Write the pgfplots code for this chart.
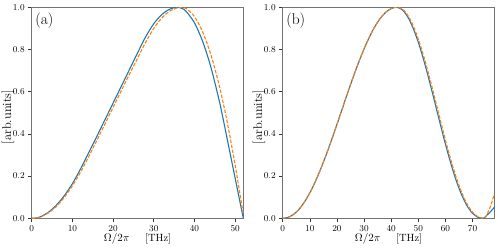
\documentclass[border=0pt]{standalone}
\usepackage{pgfplots}
\pgfplotsset{compat=1.18}
\definecolor{mblue}{RGB}{31,119,180}
\definecolor{morange}{RGB}{255,127,14}
\pgfplotsset{
 myax/.style={
  scale only axis, width=211.6pt, height=211pt,
  ymin=0, ymax=1, ytick={0,0.2,0.4,0.6,0.8,1},
  yticklabel style={/pgf/number format/.cd, fixed, fixed zerofill, precision=1},
  tick align=outside, xtick pos=bottom, ytick pos=left,
  major tick length=3.5pt,
  tick style={black!80, line width=0.6pt},
  axis line style={black!55, line width=0.8pt},
  tick label style={font=\fontsize{9}{10}\selectfont},
  x label style={font=\fontsize{10.5}{12}\selectfont, at={(axis description cs:0.5,-0.095)}, anchor=center},
  y label style={font=\fontsize{12.5}{14}\selectfont, at={(axis description cs:-0.112,0.48)}, anchor=center},
  xlabel={$\Omega/2\pi$\hspace{1.5em}[THz]},
  ylabel={[arb.units]},
 },
 bl/.style={mblue, line width=1.1pt, smooth, no markers},
 or/.style={morange, line width=1.1pt, dash pattern=on 3.5pt off 1.6pt, smooth, no markers},
}
\begin{document}
\begin{tikzpicture}
\useasboundingbox (-31.7pt,-29.7pt) rectangle (466.3pt,218.3pt);
\begin{axis}[myax, at={(0pt,0pt)}, anchor=south west, xmin=0, xmax=52, xtick={0,10,20,30,40,50}]
\addplot[bl] coordinates {(0,0) (1,0.0008) (2,0.006) (4,0.027) (6,0.061) (8,0.107) (10,0.164) (12,0.234) (14,0.310) (16,0.388) (18,0.467) (20,0.546) (22,0.625) (24,0.704) (26,0.783) (28,0.860) (30,0.922) (32,0.966) (34,0.992) (35.8,1.0) (37,0.994) (38,0.9797) (40,0.9262) (42,0.8391) (44,0.7186) (46,0.5646) (47,0.475) (48,0.38) (49,0.285) (50,0.19) (51,0.095) (52,0)};
\addplot[or] coordinates {(0,0) (1,0.0006) (2,0.005) (4,0.024) (6,0.055) (8,0.099) (10,0.154) (12,0.219) (14,0.292) (16,0.369) (18,0.447) (20,0.526) (22,0.604) (24,0.682) (26,0.758) (28,0.834) (30,0.900) (32,0.950) (34,0.9828) (36,0.9986) (36.8,1.0) (38,0.9938) (40,0.956) (42,0.8837) (44,0.7771) (46,0.636) (48,0.4606) (50,0.2508) (51,0.136) (52,0.02)};
\node[anchor=north west, inner sep=0pt, font=\fontsize{15.5}{18}\selectfont] at (rel axis cs:0.016,0.975) {(a)};
\end{axis}
\begin{axis}[myax, at={(251pt,0pt)}, anchor=south west, xmin=0, xmax=78, xtick={0,10,20,30,40,50,60,70}]
\addplot[bl] coordinates {(0,0) (2,0.0043) (4,0.0184) (6,0.0426) (8,0.0769) (10,0.1207) (12,0.1731) (14,0.2333) (16,0.2996) (18,0.3708) (20,0.4451) (22,0.5209) (24,0.5964) (26,0.6698) (28,0.7393) (30,0.8033) (32,0.8603) (34,0.9090) (36,0.9481) (38,0.9767) (40,0.9941) (42,1.0) (44,0.9890) (46,0.9564) (48,0.9037) (50,0.8335) (52,0.7491) (54,0.6541) (56,0.5531) (58,0.4506) (60,0.3511) (62,0.2588) (64,0.1773) (66,0.1098) (68,0.0581) (70,0.0233) (72,0.0048) (73,0.0012) (74,0) (75,0.011) (76,0.023) (77,0.037) (78,0.052)};
\addplot[or] coordinates {(0,0) (2,0.0043) (4,0.0184) (6,0.0426) (8,0.0769) (10,0.1207) (12,0.1731) (14,0.2333) (16,0.2996) (18,0.3708) (20,0.4451) (22,0.5209) (24,0.5964) (26,0.6698) (28,0.7393) (30,0.8033) (32,0.8603) (34,0.9090) (36,0.9481) (38,0.9767) (40,0.9941) (42.2,1.0) (44.4,0.9890) (46.4,0.9564) (48.4,0.9037) (50.4,0.8335) (52.4,0.7491) (54.4,0.6541) (56.4,0.5531) (58.4,0.4506) (60.4,0.3511) (62.4,0.2588) (64.4,0.1773) (66.4,0.1098) (68.4,0.0581) (70.4,0.0233) (72.4,0.0048) (73.4,0.0012) (74.2,0) (75,0.01) (76,0.038) (77,0.073) (78,0.115)};
\node[anchor=north west, inner sep=0pt, font=\fontsize{15.5}{18}\selectfont] at (rel axis cs:0.016,0.975) {(b)};
\end{axis}
\end{tikzpicture}
\end{document}
